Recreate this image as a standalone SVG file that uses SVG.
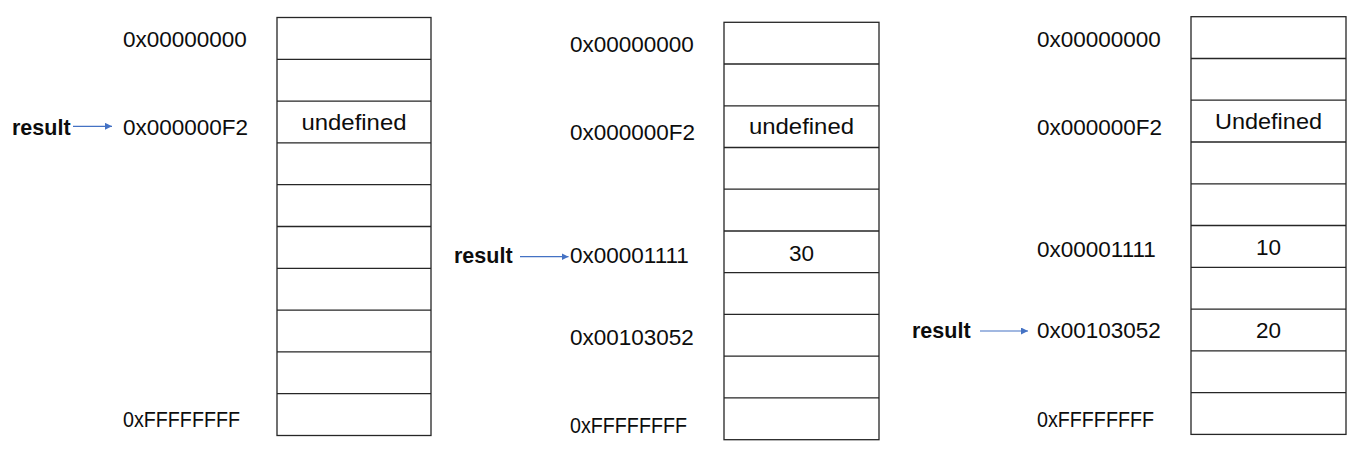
<svg xmlns="http://www.w3.org/2000/svg" width="1353" height="460" viewBox="0 0 1353 460">
  <defs>
    <style>
      .cell { fill: #ffffff; stroke: #262626; stroke-width: 1.3; }
      .div { stroke: #262626; stroke-width: 1.3; fill: none; }
      .lbl { font-family: "Liberation Sans", Arial, sans-serif; font-size: 22.5px; fill: #0d0d0d; }
      .val { font-family: "Liberation Sans", Arial, sans-serif; font-size: 22.5px; fill: #0d0d0d; text-anchor: middle; }
      .var { font-family: "Liberation Sans", Arial, sans-serif; font-size: 21.5px; font-weight: bold; fill: #0d0d0d; }
      .arrow { stroke: #4472C4; stroke-width: 1.2; fill: none; marker-end: url(#ah); }
    </style>
    <marker id="ah" viewBox="0 0 10 10" refX="10" refY="5" markerWidth="7" markerHeight="7" markerUnits="userSpaceOnUse" orient="auto">
      <path d="M0,0 L10,5 L0,10 z" fill="#4472C4"/>
    </marker>
  </defs>
  <rect width="1353" height="460" fill="#ffffff"/>

  <!-- Column 1 -->
  <g id="memory1">
    <rect class="cell" x="277" y="17.5" width="154" height="418"/>
    <path class="div" d="M277,59.3H431 M277,101.1H431 M277,142.9H431 M277,184.7H431 M277,226.5H431 M277,268.3H431 M277,310.1H431 M277,351.9H431 M277,393.7H431"/>
    <text class="lbl" x="123" y="47">0x00000000</text>
    <text class="lbl" x="123" y="135">0x000000F2</text>
    <text class="lbl" x="123" y="427" textLength="117" lengthAdjust="spacingAndGlyphs">0xFFFFFFFF</text>
    <text class="val" x="354" y="130" textLength="105" lengthAdjust="spacingAndGlyphs">undefined</text>
  </g>
  <g id="var1">
    <text class="var" x="12" y="134.5">result</text>
  </g>

  <!-- Column 2 -->
  <g id="memory2">
    <rect class="cell" x="724" y="22.3" width="155" height="417.4"/>
    <path class="div" d="M724,64H879 M724,105.8H879 M724,147.5H879 M724,189.2H879 M724,231H879 M724,272.7H879 M724,314.4H879 M724,356.2H879 M724,397.9H879"/>
    <text class="lbl" x="570" y="52">0x00000000</text>
    <text class="lbl" x="570" y="139.5">0x000000F2</text>
    <text class="lbl" x="570" y="262.5">0x00001111</text>
    <text class="lbl" x="570" y="344.5">0x00103052</text>
    <text class="lbl" x="570" y="432.5" textLength="117" lengthAdjust="spacingAndGlyphs">0xFFFFFFFF</text>
    <text class="val" x="801.5" y="134" textLength="105" lengthAdjust="spacingAndGlyphs">undefined</text>
    <text class="val" x="801.5" y="261">30</text>
  </g>
  <g id="var2">
    <text class="var" x="454" y="262.5">result</text>
  </g>

  <!-- Column 3 -->
  <g id="memory3">
    <rect class="cell" x="1191" y="16.7" width="155" height="417.7"/>
    <path class="div" d="M1191,58.5H1346 M1191,100.2H1346 M1191,142H1346 M1191,183.8H1346 M1191,225.5H1346 M1191,267.3H1346 M1191,309.1H1346 M1191,350.9H1346 M1191,392.6H1346"/>
    <text class="lbl" x="1037" y="47">0x00000000</text>
    <text class="lbl" x="1037" y="134.5">0x000000F2</text>
    <text class="lbl" x="1037" y="256.5">0x00001111</text>
    <text class="lbl" x="1037" y="338">0x00103052</text>
    <text class="lbl" x="1037" y="426.5" textLength="117" lengthAdjust="spacingAndGlyphs">0xFFFFFFFF</text>
    <text class="val" x="1268.5" y="128.5" textLength="107" lengthAdjust="spacingAndGlyphs">Undefined</text>
    <text class="val" x="1268.5" y="254.5">10</text>
    <text class="val" x="1268.5" y="337.5">20</text>
  </g>
  <g id="var3">
    <text class="var" x="912" y="338">result</text>
  </g>

  <!-- Connectors -->
  <g id="connectors">
    <path class="arrow" d="M73,126.3H112"/>
    <path class="arrow" d="M520,256.7H568.5"/>
    <path class="arrow" d="M980,331H1028"/>
  </g>
</svg>
